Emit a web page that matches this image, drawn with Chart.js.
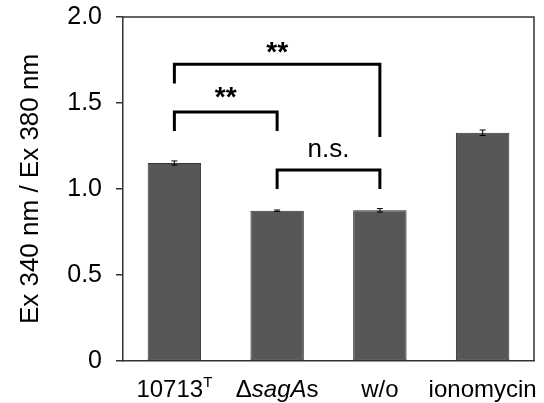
<!DOCTYPE html>
<html>
<head>
<meta charset="utf-8">
<script src="https://cdn.jsdelivr.net/npm/chart.js@4.4.1/dist/chart.umd.min.js"></script>
<style>
  body { margin: 0; background: #fff; }
  #wrap { position: relative; width: 544px; height: 403px; }
</style>
</head>
<body>
<div id="wrap"><canvas id="chart"></canvas></div>
<script>
// data
const categories = ["10713T", "\u0394sagAs", "w/o", "ionomycin"];
// rich label pieces: [text, style] style: n = normal, i = italic, s = superscript
const labelParts = [
  [["10713", "n"], ["T", "s"]],
  [["\u0394", "n"], ["sagA", "i"], ["s", "n"]],
  [["w/o", "n"]],
  [["ionomycin", "n"]]
];
const ratioValues = [1.151, 0.874, 0.876, 1.327];
const ratioErrors = [0.012, 0.004, 0.01, 0.016];
const yTicks = [0, 0.5, 1.0, 1.5, 2.0];

// significance brackets (category index, y in data units)
const bracketFrom = [0, 0, 1];
const bracketTo = [2, 1, 2];
const bracketTop = [1.725, 1.448, 1.11];
const legEndFrom = [1.614, 1.337, 1.0];
const legEndTo = [1.302, 1.337, 1.0];
const bracketText = ["**", "**", "n.s."];
const bracketTextY = [1.79, 1.525, 1.23];

const FONT = "'Liberation Sans', Arial, sans-serif";

const extras = {
  id: "extras",
  afterDatasetsDraw(chart) {
    const ctx = chart.ctx;
    const x = chart.scales.x, y = chart.scales.y;
    const meta = chart.getDatasetMeta(0);
    ctx.save();
    // error bars
    ctx.strokeStyle = "#000";
    ctx.lineWidth = 1;
    meta.data.forEach((bar, i) => {
      const top = y.getPixelForValue(ratioValues[i] + ratioErrors[i]);
      const bot = y.getPixelForValue(ratioValues[i] - ratioErrors[i]);
      ctx.beginPath();
      ctx.moveTo(bar.x, top); ctx.lineTo(bar.x, bot);
      ctx.moveTo(bar.x - 3, top); ctx.lineTo(bar.x + 3, top);
      ctx.moveTo(bar.x - 3, bot); ctx.lineTo(bar.x + 3, bot);
      ctx.stroke();
    });
    // frame
    const a = chart.chartArea;
    ctx.strokeStyle = "#333";
    ctx.lineWidth = 1.5;
    ctx.beginPath();
    ctx.moveTo(a.left, a.top); ctx.lineTo(a.right, a.top); ctx.lineTo(a.right, a.bottom);
    ctx.stroke();
    // brackets
    ctx.strokeStyle = "#000";
    ctx.lineWidth = 3;
    ctx.lineJoin = "miter";
    ctx.fillStyle = "#000";
    ctx.textAlign = "center";
    ctx.textBaseline = "middle";
    bracketFrom.forEach((f, k) => {
      const x1 = x.getPixelForValue(f), x2 = x.getPixelForValue(bracketTo[k]);
      const yt = y.getPixelForValue(bracketTop[k]);
      ctx.beginPath();
      ctx.moveTo(x1, y.getPixelForValue(legEndFrom[k]));
      ctx.lineTo(x1, yt); ctx.lineTo(x2, yt);
      ctx.lineTo(x2, y.getPixelForValue(legEndTo[k]));
      ctx.stroke();
      ctx.font = (bracketText[k] === "**" ? "bold 28px " : "26px ") + FONT;
      ctx.fillText(bracketText[k], (x1 + x2) / 2, y.getPixelForValue(bracketTextY[k]));
    });
    // category labels
    ctx.textAlign = "left";
    ctx.textBaseline = "alphabetic";
    const base = a.bottom + 36;
    labelParts.forEach((parts, i) => {
      const fontOf = s => s === "i" ? "italic 24px " + FONT : s === "s" ? "15px " + FONT : "24px " + FONT;
      let w = 0;
      parts.forEach(([t, s]) => { ctx.font = fontOf(s); w += ctx.measureText(t).width; });
      let cx = x.getPixelForValue(i) - w / 2;
      parts.forEach(([t, s]) => {
        ctx.font = fontOf(s);
        ctx.fillText(t, cx, s === "s" ? base - 10 : base);
        cx += ctx.measureText(t).width;
      });
    });
    ctx.restore();
  }
};

new Chart(document.getElementById("chart"), {
  type: "bar",
  data: {
    labels: categories,
    datasets: [{
      data: ratioValues,
      backgroundColor: "#575757",
      borderColor: "#333",
      borderWidth: 1,
      borderSkipped: false,
      categoryPercentage: 1,
      barPercentage: 0.52
    }]
  },
  options: {
    responsive: true,
    maintainAspectRatio: false,
    animation: false,
    layout: { padding: { top: 17, right: 10, bottom: 42, left: 0 } },
    plugins: { legend: { display: false }, tooltip: { enabled: false } },
    scales: {
      x: {
        ticks: { display: false },
        grid: { display: false },
        border: { color: "#333", width: 1.5 },
        afterFit: s => { s.height = 0; s.paddingLeft = 0; s.paddingRight = 0; }
      },
      y: {
        min: 0,
        max: 2,
        afterBuildTicks: s => { s.ticks = yTicks.map(v => ({ value: v })); },
        afterFit: s => { s.width = 123; s.paddingTop = 0; s.paddingBottom = 0; },
        ticks: {
          color: "#000",
          padding: 14,
          font: { family: FONT, size: 25 },
          callback: v => v === 0 ? "0" : v.toFixed(1)
        },
        grid: { drawOnChartArea: false, tickLength: 7, color: "#333", lineWidth: 1.5 },
        border: { color: "#333", width: 1.5 },
        title: {
          display: true,
          text: "Ex 340 nm / Ex 380 nm",
          color: "#000",
          font: { family: FONT, size: 26 },
          padding: { top: 15, bottom: 0 }
        }
      }
    }
  },
  plugins: [extras]
});
</script>
</body>
</html>
